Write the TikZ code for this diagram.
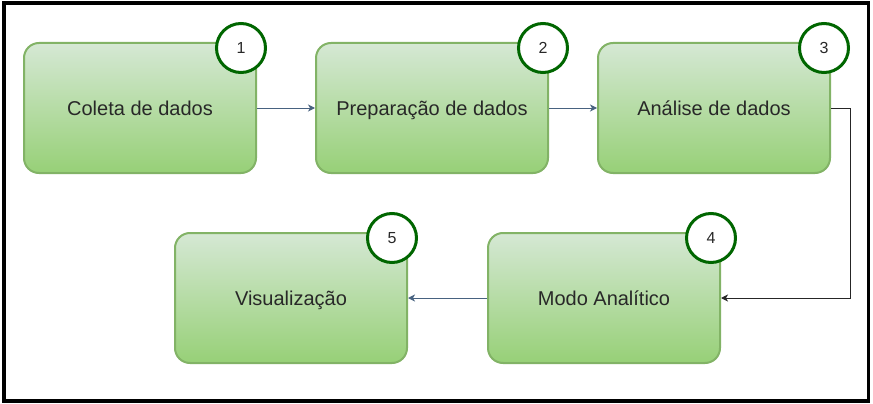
\documentclass[tikz,border=0pt]{standalone}
\usepackage{fontspec}
\setmainfont{Liberation Sans}
\usepackage{tikz}
\usetikzlibrary{
	arrows.meta,
	positioning,
	shadings
}
\definecolor{boxtop}{RGB}{213,232,212}
\definecolor{boxbottom}{RGB}{151,208,119}
\definecolor{boxline}{RGB}{130,179,102}
\definecolor{numline}{RGB}{0,102,0}
\definecolor{flowline}{RGB}{72,98,128}
\definecolor{textgray}{RGB}{40,40,40}

\begin{document}
\begin{tikzpicture}[
    x=1pt, y=-1pt,
    node distance=58pt and 58pt,
    stagebox/.style={rectangle, draw=boxline, line width=2pt, rounded corners=15pt, top color=boxtop, bottom color=boxbottom, minimum width=232pt, minimum height=130pt, text height=18pt, text depth=4pt, text=textgray, font=\fontsize{20}{24}\selectfont},
    numcircle/.style={circle, draw=numline, line width=3pt, fill=white, minimum size=49pt, inner sep=0pt, text=textgray, font=\fontsize{16}{19}\selectfont},
    arrow/.style={line width=1pt, draw=flowline, -{Stealth[length=7pt,width=7pt,inset=2pt]}}
]
\useasboundingbox (0,0) rectangle (873,404);
\draw[line width=3.5pt] (4,3) rectangle (868.5,401);

% Nodes
\node[stagebox] (coleta) at (140,108) {Coleta de dados};
\node[stagebox, right=58pt of coleta] (preparacao) {Preparação de dados};
\node[stagebox, right=48pt of preparacao] (analise) {Análise de dados};
\node[stagebox, below=58pt of analise, xshift=-110pt] (modo) {Modo Analítico};
\node[stagebox, left=79pt of modo] (visualizacao) {Visualização};

% Numbers
\foreach \b/\n/\dx in {coleta/1/-16, preparacao/2/-6, analise/3/-7, modo/4/-10, visualizacao/5/-16}
    \node[numcircle] (num\n) at ([xshift=\dx pt, yshift=-6pt]\b.north east) {\n};

% Arrows
\draw[arrow] (coleta) -- (preparacao);
\draw[arrow] (preparacao) -- (analise);
\draw[arrow, draw=black!85] (analise.east) -- ++(19,0) |- (modo.east);
\draw[arrow] (modo) -- (visualizacao);

\end{tikzpicture}
\end{document}
